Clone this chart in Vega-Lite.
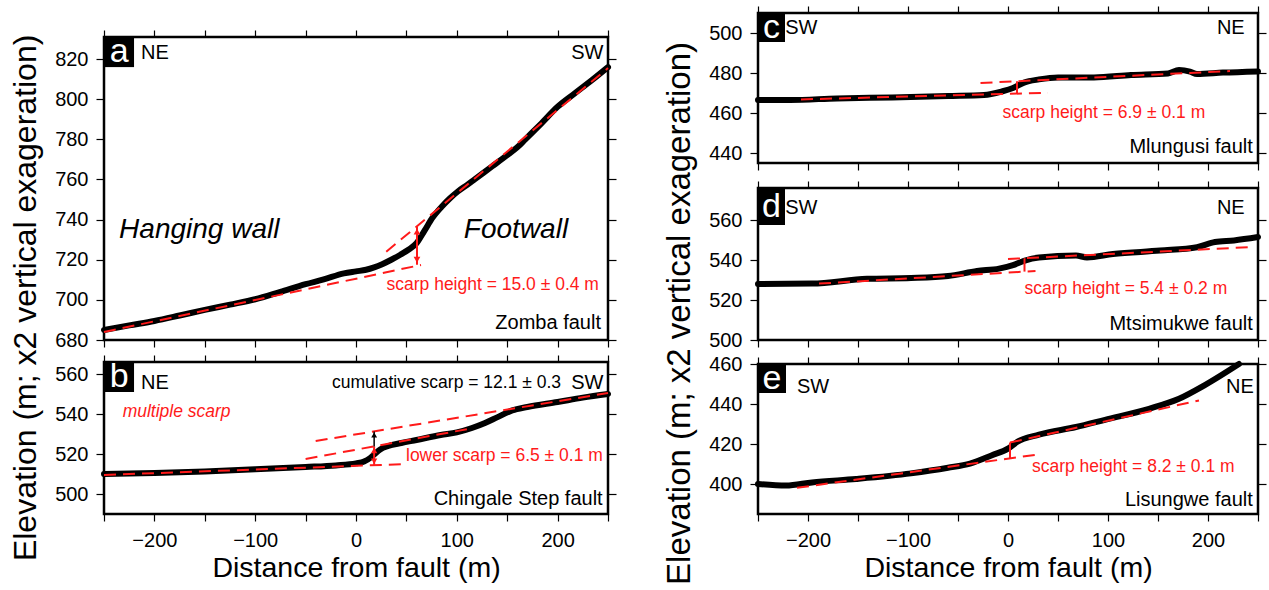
{
"$schema": "https://vega.github.io/schema/vega-lite/v6.json",
"padding": {"left": 10, "top": 4, "right": 0, "bottom": 0},
"config": {
  "font": "Liberation Sans",
  "view": {"stroke": "black", "strokeWidth": 2.5},
  "axis": {"grid": false, "domain": false, "tickColor": "black", "tickWidth": 1.2, "labelFont": "Liberation Sans", "labelFontSize": 20, "labelColor": "black", "titleFont": "Liberation Sans", "titleFontWeight": "normal", "titleColor": "black", "labelFlush": false, "labelOverlap": false, "labelBound": false, "minExtent": 0},
  "title": {"font": "Liberation Sans", "fontWeight": "normal", "color": "black"}
},
"hconcat": [
{
"title": {"text": "Elevation (m; x2 vertical exageration)", "orient": "left", "anchor": "middle", "fontSize": 32, "offset": 10},
"spacing": 1,
"vconcat": [
{
"width": 504, "height": 14,
"view": {"stroke": null},
"data": {"values": []},
"mark": {"type": "point", "opacity": 0}
},
{
"width": 504, "height": 303,
"encoding": {
  "x": {"field": "x", "type": "quantitative", "scale": {"domain": [-250, 250], "nice": false, "zero": false}, "axis": null},
  "y": {"field": "y", "type": "quantitative", "scale": {"domain": [680, 831], "nice": false, "zero": false}, "axis": null}
},
"layer": [
  {"data": {"values": [
    {"x": -250, "y": 685}, {"x": -225, "y": 687.3}, {"x": -200, "y": 689.5}, {"x": -175, "y": 692.2}, {"x": -150, "y": 695}, {"x": -125, "y": 697.6}, {"x": -100, "y": 700.3}, {"x": -75, "y": 704}, {"x": -50, "y": 707.8}, {"x": -32, "y": 710.2}, {"x": -12, "y": 713.2}, {"x": 0, "y": 714.2}, {"x": 10, "y": 715}, {"x": 18, "y": 716.2}, {"x": 26, "y": 717.8}, {"x": 35, "y": 720}, {"x": 44, "y": 722.5}, {"x": 52, "y": 725}, {"x": 60, "y": 728.2}, {"x": 68, "y": 734.5}, {"x": 76, "y": 741}, {"x": 85, "y": 746.4}, {"x": 93, "y": 750.5}, {"x": 101, "y": 754}, {"x": 110, "y": 757.2}, {"x": 118, "y": 760.2}, {"x": 135, "y": 766.5}, {"x": 151, "y": 772.5}, {"x": 160, "y": 776}, {"x": 168, "y": 780}, {"x": 184, "y": 788}, {"x": 200, "y": 796.2}, {"x": 217, "y": 802.9}, {"x": 234, "y": 809.5}, {"x": 250, "y": 816}
   ]},
   "mark": {"type": "line", "color": "black", "strokeWidth": 6, "interpolate": "monotone", "strokeCap": "round"},
   "encoding": {
     "x": {"field": "x", "type": "quantitative", "scale": {"domain": [-250, 250], "nice": false, "zero": false}, "axis": {"orient": "bottom", "values": [-250,-200,-150,-100,-50,0,50,100,150,200,250], "labels": false, "tickSize": 7, "title": null}},
     "y": {"field": "y", "type": "quantitative", "scale": {"domain": [680, 831], "nice": false, "zero": false}, "axis": {"orient": "left", "values": [680,700,720,740,760,780,800,820], "tickSize": 8, "labelPadding": 8, "title": null}}
   }},
  {"data": {"values": [
    {"seg": "hw", "x": -250, "y": 684}, {"seg": "hw", "x": 64.5, "y": 717.4},
    {"seg": "fw", "x": 30, "y": 724}, {"seg": "fw", "x": 250, "y": 815.5}
   ]},
   "mark": {"type": "line", "color": "#ff1a1a", "strokeWidth": 2, "strokeDash": [12, 7]},
   "encoding": {
     "x": {"field": "x", "type": "quantitative", "scale": {"domain": [-250, 250], "nice": false, "zero": false}, "axis": {"orient": "top", "values": [-250,-200,-150,-100,-50,0,50,100,150,200,250], "labels": false, "tickSize": 7, "title": null}},
     "y": {"field": "y", "type": "quantitative", "scale": {"domain": [680, 831], "nice": false, "zero": false}, "axis": {"orient": "right", "values": [680,700,720,740,760,780,800,820], "labels": false, "tickSize": 8, "title": null}},
     "detail": {"field": "seg"}
   }},
  {"data": {"values": [{"x": 60.5, "y": 717.5, "y2": 736.5}]},
   "mark": {"type": "rule", "color": "#ff1a1a", "strokeWidth": 2},
   "encoding": {"y2": {"field": "y2"}}},
  {"data": {"values": [{"x": 60.5, "y": 734}]},
   "mark": {"type": "point", "shape": "triangle-up", "filled": true, "color": "#ff1a1a", "size": 45, "opacity": 1}},
  {"data": {"values": [{"x": 60.5, "y": 720}]},
   "mark": {"type": "point", "shape": "triangle-down", "filled": true, "color": "#ff1a1a", "size": 45, "opacity": 1}},
  {"data": {"values": [{"x": -250, "x2": -220.2, "y": 816, "y2": 831}]},
   "mark": {"type": "rect", "color": "black"},
   "encoding": {"x2": {"field": "x2"}, "y2": {"field": "y2"}}},
  {"data": {"values": [{"x": -235, "y": 823.5, "t": "a"}]},
   "mark": {"type": "text", "color": "white", "fontSize": 34, "align": "center", "baseline": "middle"},
   "encoding": {"text": {"field": "t"}}},
  {"data": {"values": [{"x": -213.3, "y": 823.2, "t": "NE"}]},
   "mark": {"type": "text", "color": "black", "fontSize": 20, "align": "left", "baseline": "middle"},
   "encoding": {"text": {"field": "t"}}},
  {"data": {"values": [{"x": 245.5, "y": 823.2, "t": "SW"}, {"x": 243, "y": 688.3, "t": "Zomba fault"}]},
   "mark": {"type": "text", "color": "black", "fontSize": 20, "align": "right", "baseline": "middle"},
   "encoding": {"text": {"field": "t"}}},
  {"data": {"values": [{"x": -235, "y": 734.8, "t": "Hanging wall"}, {"x": 107, "y": 734.8, "t": "Footwall"}]},
   "mark": {"type": "text", "color": "black", "fontSize": 28, "fontStyle": "italic", "align": "left", "baseline": "middle"},
   "encoding": {"text": {"field": "t"}}},
  {"data": {"values": [{"x": 241, "y": 707.4, "t": "scarp height = 15.0 ± 0.4 m"}]},
   "mark": {"type": "text", "color": "#ff1a1a", "fontSize": 17.5, "align": "right", "baseline": "middle"},
   "encoding": {"text": {"field": "t"}}}
],
"resolve": {"axis": {"x": "independent", "y": "independent"}}
},
{
"width": 504, "height": 152,
"encoding": {
  "x": {"field": "x", "type": "quantitative", "scale": {"domain": [-250, 250], "nice": false, "zero": false}, "axis": null},
  "y": {"field": "y", "type": "quantitative", "scale": {"domain": [490, 566], "nice": false, "zero": false}, "axis": null}
},
"layer": [
  {"data": {"values": [
    {"x": -250, "y": 510}, {"x": -200, "y": 510.5}, {"x": -150, "y": 511.3}, {"x": -100, "y": 512.4}, {"x": -50, "y": 513.5}, {"x": -20, "y": 514.3}, {"x": 0, "y": 515.3}, {"x": 8, "y": 516.2}, {"x": 14, "y": 518}, {"x": 18, "y": 519.8}, {"x": 24, "y": 522.3}, {"x": 32, "y": 524}, {"x": 45, "y": 525.5}, {"x": 60, "y": 527}, {"x": 84, "y": 529.5}, {"x": 100, "y": 530.8}, {"x": 115, "y": 533}, {"x": 128, "y": 535.5}, {"x": 140, "y": 538.3}, {"x": 155, "y": 541.8}, {"x": 170, "y": 543.5}, {"x": 200, "y": 546}, {"x": 225, "y": 548.2}, {"x": 250, "y": 550}
   ]},
   "mark": {"type": "line", "color": "black", "strokeWidth": 6, "interpolate": "monotone", "strokeCap": "round"},
   "encoding": {
     "x": {"field": "x", "type": "quantitative", "scale": {"domain": [-250, 250], "nice": false, "zero": false}, "axis": {"orient": "bottom", "values": [-250,-200,-150,-100,-50,0,50,100,150,200,250], "labelExpr": "datum.value % 100 === 0 ? datum.label : ''", "tickSize": 7, "labelPadding": 9, "title": "Distance from fault (m)", "titleFontSize": 28.5, "titlePadding": 3}},
     "y": {"field": "y", "type": "quantitative", "scale": {"domain": [490, 566], "nice": false, "zero": false}, "axis": {"orient": "left", "values": [500,520,540,560], "tickSize": 8, "labelPadding": 8, "title": null}}
   }},
  {"data": {"values": [
    {"seg": "l1", "x": -250, "y": 509.5}, {"seg": "l1", "x": 50, "y": 515},
    {"seg": "l2", "x": -50, "y": 517.5}, {"seg": "l2", "x": 111, "y": 532.5},
    {"seg": "l3", "x": -40, "y": 526.5}, {"seg": "l3", "x": 250, "y": 550.5}
   ]},
   "mark": {"type": "line", "color": "#ff1a1a", "strokeWidth": 2, "strokeDash": [12, 7]},
   "encoding": {
     "x": {"field": "x", "type": "quantitative", "scale": {"domain": [-250, 250], "nice": false, "zero": false}, "axis": {"orient": "top", "values": [-250,-200,-150,-100,-50,0,50,100,150,200,250], "labels": false, "tickSize": 7, "title": null}},
     "y": {"field": "y", "type": "quantitative", "scale": {"domain": [490, 566], "nice": false, "zero": false}, "axis": {"orient": "right", "values": [500,520,540,560], "labels": false, "tickSize": 8, "title": null}},
     "detail": {"field": "seg"}
   }},
  {"data": {"values": [{"x": 18, "y": 514.4, "y2": 523.8}]},
   "mark": {"type": "rule", "color": "#ff1a1a", "strokeWidth": 2},
   "encoding": {"y2": {"field": "y2"}}},
  {"data": {"values": [{"x": 18, "y": 521.8}]},
   "mark": {"type": "point", "shape": "triangle-up", "filled": true, "color": "#ff1a1a", "size": 40, "opacity": 1}},
  {"data": {"values": [{"x": 18, "y": 516.4}]},
   "mark": {"type": "point", "shape": "triangle-down", "filled": true, "color": "#ff1a1a", "size": 40, "opacity": 1}},
  {"data": {"values": [{"x": 18, "y": 523.8, "y2": 531.3}]},
   "mark": {"type": "rule", "color": "black", "strokeWidth": 1.5},
   "encoding": {"y2": {"field": "y2"}}},
  {"data": {"values": [{"x": 18, "y": 529.5}]},
   "mark": {"type": "point", "shape": "triangle-up", "filled": true, "color": "black", "size": 35, "opacity": 1}},
  {"data": {"values": [{"x": -250, "x2": -220.2, "y": 551, "y2": 566}]},
   "mark": {"type": "rect", "color": "black"},
   "encoding": {"x2": {"field": "x2"}, "y2": {"field": "y2"}}},
  {"data": {"values": [{"x": -235, "y": 558.5, "t": "b"}]},
   "mark": {"type": "text", "color": "white", "fontSize": 34, "align": "center", "baseline": "middle"},
   "encoding": {"text": {"field": "t"}}},
  {"data": {"values": [{"x": -213.3, "y": 555.3, "t": "NE"}]},
   "mark": {"type": "text", "color": "black", "fontSize": 20, "align": "left", "baseline": "middle"},
   "encoding": {"text": {"field": "t"}}},
  {"data": {"values": [{"x": 245.5, "y": 555.3, "t": "SW"}, {"x": 244.7, "y": 497.5, "t": "Chingale Step fault"}]},
   "mark": {"type": "text", "color": "black", "fontSize": 20, "align": "right", "baseline": "middle"},
   "encoding": {"text": {"field": "t"}}},
  {"data": {"values": [{"x": 203.4, "y": 555.3, "t": "cumulative scarp = 12.1 ± 0.3"}]},
   "mark": {"type": "text", "color": "black", "fontSize": 17.5, "align": "right", "baseline": "middle"},
   "encoding": {"text": {"field": "t"}}},
  {"data": {"values": [{"x": -231.5, "y": 541.2, "t": "multiple scarp"}]},
   "mark": {"type": "text", "color": "#ff1a1a", "fontSize": 17.5, "fontStyle": "italic", "align": "left", "baseline": "middle"},
   "encoding": {"text": {"field": "t"}}},
  {"data": {"values": [{"x": 49.6, "y": 519, "t": "lower scarp = 6.5 ± 0.1 m"}]},
   "mark": {"type": "text", "color": "#ff1a1a", "fontSize": 17.5, "align": "left", "baseline": "middle"},
   "encoding": {"text": {"field": "t"}}}
],
"resolve": {"axis": {"x": "independent", "y": "independent"}}
}
]
},
{
"title": {"text": "Elevation (m; x2 vertical exageration)", "orient": "left", "anchor": "middle", "fontSize": 33, "offset": 10, "dx": -20},
"spacing": -2,
"vconcat": [
{
"width": 500, "height": 150,
"encoding": {
  "x": {"field": "x", "type": "quantitative", "scale": {"domain": [-250, 250], "nice": false, "zero": false}, "axis": null},
  "y": {"field": "y", "type": "quantitative", "scale": {"domain": [435, 510], "nice": false, "zero": false}, "axis": null}
},
"layer": [
  {"data": {"values": [
    {"x": -250, "y": 466.5}, {"x": -218, "y": 466.5}, {"x": -171, "y": 467.3}, {"x": -116, "y": 467.8}, {"x": -60, "y": 468.5}, {"x": -24, "y": 469}, {"x": -6, "y": 470.8}, {"x": 5, "y": 472.5}, {"x": 16, "y": 475.2}, {"x": 31, "y": 476.8}, {"x": 50, "y": 477.8}, {"x": 86, "y": 477.8}, {"x": 123, "y": 479}, {"x": 160, "y": 479.8}, {"x": 171, "y": 481.5}, {"x": 182, "y": 480.7}, {"x": 189, "y": 479.5}, {"x": 215, "y": 480.2}, {"x": 250, "y": 480.8}
   ]},
   "mark": {"type": "line", "color": "black", "strokeWidth": 6, "interpolate": "monotone", "strokeCap": "round"},
   "encoding": {
     "x": {"field": "x", "type": "quantitative", "scale": {"domain": [-250, 250], "nice": false, "zero": false}, "axis": {"orient": "bottom", "values": [-250,-200,-150,-100,-50,0,50,100,150,200,250], "labels": false, "tickSize": 7, "title": null}},
     "y": {"field": "y", "type": "quantitative", "scale": {"domain": [435, 510], "nice": false, "zero": false}, "axis": {"orient": "left", "values": [440,460,480,500], "tickSize": 8, "labelPadding": 8, "title": null}}
   }},
  {"data": {"values": [
    {"seg": "l", "x": -207, "y": 466.8}, {"seg": "l", "x": 40, "y": 470.1},
    {"seg": "u", "x": -27.5, "y": 475}, {"seg": "u", "x": 222, "y": 481}
   ]},
   "mark": {"type": "line", "color": "#ff1a1a", "strokeWidth": 2, "strokeDash": [12, 7]},
   "encoding": {
     "x": {"field": "x", "type": "quantitative", "scale": {"domain": [-250, 250], "nice": false, "zero": false}, "axis": {"orient": "top", "values": [-250,-200,-150,-100,-50,0,50,100,150,200,250], "labels": false, "tickSize": 7, "title": null}},
     "y": {"field": "y", "type": "quantitative", "scale": {"domain": [435, 510], "nice": false, "zero": false}, "axis": {"orient": "right", "values": [440,460,480,500], "labels": false, "tickSize": 8, "title": null}},
     "detail": {"field": "seg"}
   }},
  {"data": {"values": [{"x": 9, "y": 469.7, "y2": 475.9}]},
   "mark": {"type": "rule", "color": "#ff1a1a", "strokeWidth": 2},
   "encoding": {"y2": {"field": "y2"}}},
  {"data": {"values": [{"x": -250, "x2": -223, "y": 495.5, "y2": 510}]},
   "mark": {"type": "rect", "color": "black"},
   "encoding": {"x2": {"field": "x2"}, "y2": {"field": "y2"}}},
  {"data": {"values": [{"x": -236.5, "y": 502.7, "t": "c"}]},
   "mark": {"type": "text", "color": "white", "fontSize": 34, "align": "center", "baseline": "middle"},
   "encoding": {"text": {"field": "t"}}},
  {"data": {"values": [{"x": -222.8, "y": 502.3, "t": "SW"}]},
   "mark": {"type": "text", "color": "black", "fontSize": 20, "align": "left", "baseline": "middle"},
   "encoding": {"text": {"field": "t"}}},
  {"data": {"values": [{"x": 236.7, "y": 502.3, "t": "NE"}, {"x": 244.8, "y": 443.2, "t": "Mlungusi fault"}]},
   "mark": {"type": "text", "color": "black", "fontSize": 20, "align": "right", "baseline": "middle"},
   "encoding": {"text": {"field": "t"}}},
  {"data": {"values": [{"x": -5.5, "y": 460.2, "t": "scarp height = 6.9 ± 0.1 m"}]},
   "mark": {"type": "text", "color": "#ff1a1a", "fontSize": 17.5, "align": "left", "baseline": "middle"},
   "encoding": {"text": {"field": "t"}}}
],
"resolve": {"axis": {"x": "independent", "y": "independent"}}
},
{
"width": 500, "height": 152,
"encoding": {
  "x": {"field": "x", "type": "quantitative", "scale": {"domain": [-250, 250], "nice": false, "zero": false}, "axis": null},
  "y": {"field": "y", "type": "quantitative", "scale": {"domain": [500, 576], "nice": false, "zero": false}, "axis": null}
},
"layer": [
  {"data": {"values": [
    {"x": -250, "y": 528}, {"x": -196, "y": 528.2}, {"x": -141, "y": 530.6}, {"x": -97, "y": 531}, {"x": -60, "y": 532}, {"x": -31, "y": 534.5}, {"x": -9, "y": 535.7}, {"x": 5, "y": 537.4}, {"x": 16, "y": 539.6}, {"x": 31, "y": 541.3}, {"x": 68, "y": 542.2}, {"x": 79, "y": 541.3}, {"x": 105, "y": 543}, {"x": 152, "y": 544.7}, {"x": 189, "y": 546.4}, {"x": 207, "y": 549}, {"x": 226, "y": 549.8}, {"x": 250, "y": 551.5}
   ]},
   "mark": {"type": "line", "color": "black", "strokeWidth": 6, "interpolate": "monotone", "strokeCap": "round"},
   "encoding": {
     "x": {"field": "x", "type": "quantitative", "scale": {"domain": [-250, 250], "nice": false, "zero": false}, "axis": {"orient": "bottom", "values": [-250,-200,-150,-100,-50,0,50,100,150,200,250], "labels": false, "tickSize": 7, "title": null}},
     "y": {"field": "y", "type": "quantitative", "scale": {"domain": [500, 576], "nice": false, "zero": false}, "axis": {"orient": "left", "values": [500,520,540,560], "tickSize": 8, "labelPadding": 8, "title": null}}
   }},
  {"data": {"values": [
    {"seg": "l", "x": -189, "y": 528.2}, {"seg": "l", "x": 27.5, "y": 534.5},
    {"seg": "u", "x": 0, "y": 540.5}, {"seg": "u", "x": 240, "y": 546.4}
   ]},
   "mark": {"type": "line", "color": "#ff1a1a", "strokeWidth": 2, "strokeDash": [12, 7]},
   "encoding": {
     "x": {"field": "x", "type": "quantitative", "scale": {"domain": [-250, 250], "nice": false, "zero": false}, "axis": {"orient": "top", "values": [-250,-200,-150,-100,-50,0,50,100,150,200,250], "labels": false, "tickSize": 7, "title": null, "minExtent": 16}},
     "y": {"field": "y", "type": "quantitative", "scale": {"domain": [500, 576], "nice": false, "zero": false}, "axis": {"orient": "right", "values": [500,520,540,560], "labels": false, "tickSize": 8, "title": null}},
     "detail": {"field": "seg"}
   }},
  {"data": {"values": [{"x": 16.5, "y": 534.2, "y2": 540.9}]},
   "mark": {"type": "rule", "color": "#ff1a1a", "strokeWidth": 2},
   "encoding": {"y2": {"field": "y2"}}},
  {"data": {"values": [{"x": -250, "x2": -223, "y": 557.5, "y2": 576}]},
   "mark": {"type": "rect", "color": "black"},
   "encoding": {"x2": {"field": "x2"}, "y2": {"field": "y2"}}},
  {"data": {"values": [{"x": -236.5, "y": 566.5, "t": "d"}]},
   "mark": {"type": "text", "color": "white", "fontSize": 34, "align": "center", "baseline": "middle"},
   "encoding": {"text": {"field": "t"}}},
  {"data": {"values": [{"x": -222.8, "y": 566.2, "t": "SW"}]},
   "mark": {"type": "text", "color": "black", "fontSize": 20, "align": "left", "baseline": "middle"},
   "encoding": {"text": {"field": "t"}}},
  {"data": {"values": [{"x": 236.7, "y": 566.2, "t": "NE"}, {"x": 244.8, "y": 507.8, "t": "Mtsimukwe fault"}]},
   "mark": {"type": "text", "color": "black", "fontSize": 20, "align": "right", "baseline": "middle"},
   "encoding": {"text": {"field": "t"}}},
  {"data": {"values": [{"x": 16.5, "y": 525.3, "t": "scarp height = 5.4 ± 0.2 m"}]},
   "mark": {"type": "text", "color": "#ff1a1a", "fontSize": 17.5, "align": "left", "baseline": "middle"},
   "encoding": {"text": {"field": "t"}}}
],
"resolve": {"axis": {"x": "independent", "y": "independent"}}
},
{
"width": 500, "height": 150,
"encoding": {
  "x": {"field": "x", "type": "quantitative", "scale": {"domain": [-250, 250], "nice": false, "zero": false}, "axis": null},
  "y": {"field": "y", "type": "quantitative", "scale": {"domain": [385, 460], "nice": false, "zero": false}, "axis": null}
},
"layer": [
  {"data": {"values": [
    {"x": -250, "y": 400}, {"x": -222, "y": 399.2}, {"x": -196, "y": 400.8}, {"x": -152, "y": 402.5}, {"x": -97, "y": 405.3}, {"x": -60, "y": 408.1}, {"x": -38, "y": 410.2}, {"x": -16, "y": 414.4}, {"x": 0, "y": 417.7}, {"x": 9, "y": 421}, {"x": 31, "y": 424.7}, {"x": 68, "y": 428.5}, {"x": 97, "y": 432.1}, {"x": 141, "y": 437.6}, {"x": 171, "y": 442.6}, {"x": 196, "y": 449.2}, {"x": 231, "y": 460}
   ]},
   "mark": {"type": "line", "color": "black", "strokeWidth": 6, "interpolate": "monotone", "strokeCap": "round"},
   "encoding": {
     "x": {"field": "x", "type": "quantitative", "scale": {"domain": [-250, 250], "nice": false, "zero": false}, "axis": {"orient": "bottom", "values": [-250,-200,-150,-100,-50,0,50,100,150,200,250], "labelExpr": "datum.value % 100 === 0 ? datum.label : ''", "tickSize": 7, "labelPadding": 9, "title": "Distance from fault (m)", "titleFontSize": 28.5, "titlePadding": 3}},
     "y": {"field": "y", "type": "quantitative", "scale": {"domain": [385, 460], "nice": false, "zero": false}, "axis": {"orient": "left", "values": [400,420,440,460], "tickSize": 8, "labelPadding": 8, "title": null}}
   }},
  {"data": {"values": [
    {"seg": "l", "x": -211, "y": 398.1}, {"seg": "l", "x": 29, "y": 414.7},
    {"seg": "u", "x": 2, "y": 420.7}, {"seg": "u", "x": 191, "y": 441.8}
   ]},
   "mark": {"type": "line", "color": "#ff1a1a", "strokeWidth": 2, "strokeDash": [12, 7]},
   "encoding": {
     "x": {"field": "x", "type": "quantitative", "scale": {"domain": [-250, 250], "nice": false, "zero": false}, "axis": {"orient": "top", "values": [-250,-200,-150,-100,-50,0,50,100,150,200,250], "labels": false, "tickSize": 7, "title": null}},
     "y": {"field": "y", "type": "quantitative", "scale": {"domain": [385, 460], "nice": false, "zero": false}, "axis": {"orient": "right", "values": [400,420,440,460], "labels": false, "tickSize": 8, "title": null}},
     "detail": {"field": "seg"}
   }},
  {"data": {"values": [{"x": 2, "y": 412.8, "y2": 420.7}]},
   "mark": {"type": "rule", "color": "#ff1a1a", "strokeWidth": 2},
   "encoding": {"y2": {"field": "y2"}}},
  {"data": {"values": [{"x": -250, "x2": -222, "y": 445.5, "y2": 460}]},
   "mark": {"type": "rect", "color": "black"},
   "encoding": {"x2": {"field": "x2"}, "y2": {"field": "y2"}}},
  {"data": {"values": [{"x": -236, "y": 452.7, "t": "e"}]},
   "mark": {"type": "text", "color": "white", "fontSize": 34, "align": "center", "baseline": "middle"},
   "encoding": {"text": {"field": "t"}}},
  {"data": {"values": [{"x": -211, "y": 448.7, "t": "SW"}]},
   "mark": {"type": "text", "color": "black", "fontSize": 20, "align": "left", "baseline": "middle"},
   "encoding": {"text": {"field": "t"}}},
  {"data": {"values": [{"x": 245.9, "y": 448.7, "t": "NE"}, {"x": 244.8, "y": 392, "t": "Lisungwe fault"}]},
   "mark": {"type": "text", "color": "black", "fontSize": 20, "align": "right", "baseline": "middle"},
   "encoding": {"text": {"field": "t"}}},
  {"data": {"values": [{"x": 23.9, "y": 408.7, "t": "scarp height = 8.2 ± 0.1 m"}]},
   "mark": {"type": "text", "color": "#ff1a1a", "fontSize": 17.5, "align": "left", "baseline": "middle"},
   "encoding": {"text": {"field": "t"}}}
],
"resolve": {"axis": {"x": "independent", "y": "independent"}}
}
]
}
],
"spacing": 42
}
